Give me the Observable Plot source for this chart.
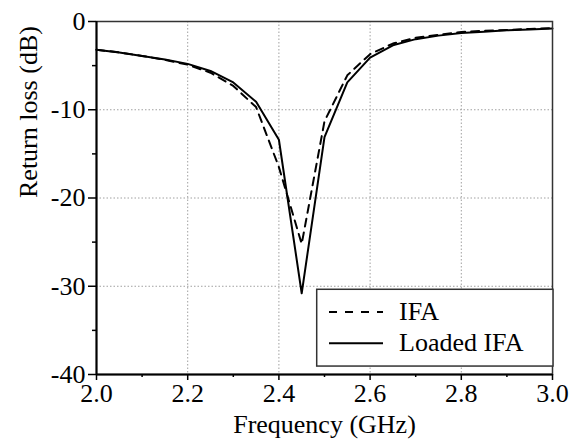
<!DOCTYPE html>
<html><head><meta charset="utf-8">
<script src="https://cdn.jsdelivr.net/npm/d3@7"></script>
<script src="https://cdn.jsdelivr.net/npm/@observablehq/plot@0.6"></script>
<style>body{margin:0;background:#fff}</style>
</head><body><div id="chart"></div>
<script>
const freq   = [2.0, 2.05, 2.1, 2.15, 2.2, 2.25, 2.3, 2.35, 2.4, 2.45, 2.5, 2.55, 2.6, 2.65, 2.7, 2.75, 2.8, 2.85, 2.9, 2.95, 3.0];
const ifa    = [-3.2, -3.5, -3.9, -4.35, -4.9, -5.8, -7.3, -9.7, -16.5, -25.2, -11.3, -6.1, -3.7, -2.5, -1.85, -1.5, -1.2, -1.05, -0.95, -0.85, -0.75];
const loaded = [-3.2, -3.5, -3.9, -4.3, -4.8, -5.6, -6.9, -9.1, -13.4, -30.8, -13.1, -6.9, -4.1, -2.7, -2.0, -1.6, -1.3, -1.15, -1.0, -0.9, -0.8];
const xTicks = [2.0, 2.2, 2.4, 2.6, 2.8, 3.0];
const xMinor = [2.1, 2.3, 2.5, 2.7, 2.9];
const yTicks = [0, -10, -20, -30, -40];
const yMinor = [-5, -15, -25, -35];
const xGrid = [2.2, 2.4, 2.6, 2.8];
const yGrid = [-10, -20, -30];
const seriesNames = ["IFA", "Loaded IFA"];
const xLabel = "Frequency (GHz)";
const yLabel = "Return loss (dB)";

const FS = 26;
const FONT = "Tinos, 'Liberation Serif', 'Times New Roman', 'DejaVu Serif', serif";
const gridStyle = {stroke: "#a0a0a0", strokeWidth: 1, strokeDasharray: "1.5,2"};

const chart = Plot.plot({
  width: 573, height: 440,
  marginLeft: 96, marginRight: 21, marginTop: 21, marginBottom: 66,
  style: {fontSize: "26px", background: "white", color: "black"},
  x: {domain: [2, 3]},
  y: {domain: [-40, 0]},
  marks: [
    Plot.ruleX(xGrid, gridStyle),
    Plot.ruleY(yGrid, gridStyle),
    Plot.line(freq, {x: freq, y: ifa, stroke: "black", strokeWidth: 2, strokeDasharray: "8,6"}),
    Plot.line(freq, {x: freq, y: loaded, stroke: "black", strokeWidth: 2}),
    Plot.frame({stroke: "#333", strokeWidth: 1.5}),
    Plot.ruleX([2], {stroke: "black", strokeWidth: 2}),
    Plot.ruleY([-40], {stroke: "black", strokeWidth: 2}),
    Plot.axisX(xTicks, {tickSize: 6, tickPadding: 3, tickFormat: d3.format(".1f"), label: null, fontSize: FS, strokeWidth: 1.5}),
    Plot.axisX(xMinor, {tickSize: 3, tickFormat: () => "", label: null, strokeWidth: 1.5}),
    Plot.axisY(yTicks, {tickSize: 8, tickPadding: 3, tickFormat: d => String(d), label: null, fontSize: FS, strokeWidth: 1.5}),
    Plot.axisY(yMinor, {tickSize: 4, tickFormat: () => "", label: null, strokeWidth: 1.5}),
    Plot.text([xLabel], {frameAnchor: "bottom", dy: 58, lineAnchor: "bottom", fontSize: FS, fill: "black"}),
    Plot.text([yLabel], {frameAnchor: "left", rotate: -90, dx: -68, fontSize: FS, fill: "black"})
  ]
});

// legend inside the plot (lower right)
const svg = d3.select(chart);
const sx = chart.scale("x"), sy = chart.scale("y");
const bx1 = sx.apply(2.484), bx2 = sx.apply(3.0) + 1;
const by1 = sy.apply(-30.4), by2 = sy.apply(-39.1);
const lg = svg.append("g");
lg.append("rect").attr("x", bx1).attr("y", by1).attr("width", bx2 - bx1).attr("height", by2 - by1)
  .attr("fill", "white").attr("stroke", "#333").attr("stroke-width", 1.5);
const dashes = ["8,8", null];
seriesNames.forEach((name, i) => {
  const yy = by1 + 22.7 + i * 31.3;
  const ln = lg.append("line").attr("x1", bx1 + 12.3).attr("x2", bx1 + 66.3).attr("y1", yy).attr("y2", yy)
    .attr("stroke", "black").attr("stroke-width", 2);
  if (dashes[i]) ln.attr("stroke-dasharray", dashes[i]);
  lg.append("text").attr("x", bx1 + 82.3).attr("y", yy + 8).attr("text-anchor", "start")
    .attr("font-size", FS).attr("fill", "black").text(name);
});

chart.style.fontFamily = FONT;
svg.selectAll("text").style("font-family", FONT);

document.getElementById("chart").appendChild(chart);
</script>
</body></html>
